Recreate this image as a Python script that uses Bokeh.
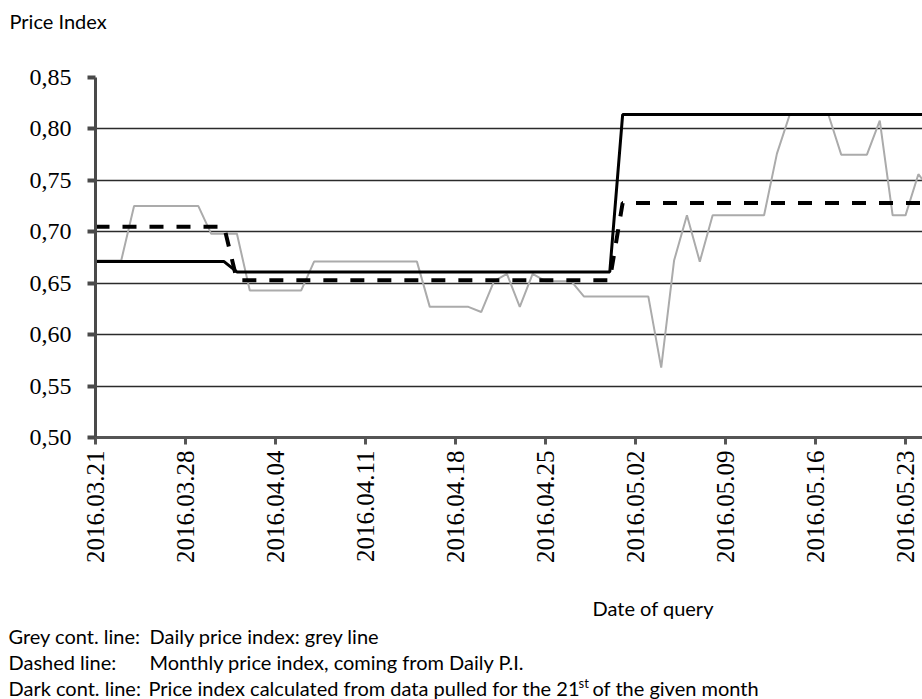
import math
import pandas as pd
from bokeh.plotting import figure
from bokeh.layouts import column
from bokeh.models import Range1d, FixedTicker, DatetimeTickFormatter
from bokeh.core.properties import value
from bokeh.embed import file_html
from bokeh.resources import INLINE

# ---------------- data ----------------
first_day = "2016-03-21"
dates = pd.date_range(first_day, periods=66, freq="D")

daily_pi = [
    0.672, 0.672, 0.672, 0.725, 0.725, 0.725, 0.725, 0.725, 0.725, 0.698,
    0.698, 0.698, 0.643, 0.643, 0.643, 0.643, 0.643, 0.671, 0.671, 0.671,
    0.671, 0.671, 0.671, 0.671, 0.671, 0.671, 0.627, 0.627, 0.627, 0.627,
    0.622, 0.652, 0.659, 0.627, 0.659, 0.652, 0.652, 0.652, 0.637, 0.637,
    0.637, 0.637, 0.637, 0.637, 0.568, 0.672, 0.716, 0.671, 0.716, 0.716,
    0.716, 0.716, 0.716, 0.776, 0.814, 0.814, 0.814, 0.814, 0.775, 0.775,
    0.775, 0.808, 0.716, 0.716, 0.756, 0.740,
]

monthly_pi = [
    0.705, 0.705, 0.705, 0.705, 0.705, 0.705, 0.705, 0.705, 0.705, 0.705,
    0.705, 0.653, 0.653, 0.653, 0.653, 0.653, 0.653, 0.653, 0.653, 0.653,
    0.653, 0.653, 0.653, 0.653, 0.653, 0.653, 0.653, 0.653, 0.653, 0.653,
    0.653, 0.653, 0.653, 0.653, 0.653, 0.653, 0.653, 0.653, 0.653, 0.653,
    0.653, 0.728, 0.728, 0.728, 0.728, 0.728, 0.728, 0.728, 0.728, 0.728,
    0.728, 0.728, 0.728, 0.728, 0.728, 0.728, 0.728, 0.728, 0.728, 0.728,
    0.728, 0.728, 0.728, 0.728, 0.728, 0.728,
]

pulled_21st_pi = [
    0.671, 0.671, 0.671, 0.671, 0.671, 0.671, 0.671, 0.671, 0.671, 0.671,
    0.671, 0.661, 0.661, 0.661, 0.661, 0.661, 0.661, 0.661, 0.661, 0.661,
    0.661, 0.661, 0.661, 0.661, 0.661, 0.661, 0.661, 0.661, 0.661, 0.661,
    0.661, 0.661, 0.661, 0.661, 0.661, 0.661, 0.661, 0.661, 0.661, 0.661,
    0.661, 0.814, 0.814, 0.814, 0.814, 0.814, 0.814, 0.814, 0.814, 0.814,
    0.814, 0.814, 0.814, 0.814, 0.814, 0.814, 0.814, 0.814, 0.814, 0.814,
    0.814, 0.814, 0.814, 0.814, 0.814, 0.814,
]

x_tick_labels = ["2016.03.21", "2016.03.28", "2016.04.04", "2016.04.11", "2016.04.18",
                 "2016.04.25", "2016.05.02", "2016.05.09", "2016.05.16", "2016.05.23"]
y_ticks = [0.50, 0.55, 0.60, 0.65, 0.70, 0.75, 0.80, 0.85]
y_tick_labels = ["0,50", "0,55", "0,60", "0,65", "0,70", "0,75", "0,80", "0,85"]

y_title = "Price Index"
x_title = "Date of query"
notes_left = ["Grey cont. line:", "Dashed line:", "Dark cont. line:"]
notes_right = ["Daily price index: grey line",
               "Monthly price index, coming from Daily P.I.",
               "Price index calculated from data pulled for the 21"]
note_sup = "st"
note_tail = "of the given month"

# ---------------- layout constants ----------------
W = 922
H_TOP, H_CHART, H_BOT = 40, 550, 109
FL, FT = 95, 37              # frame left / top in chart canvas
FB = 397                     # frame bottom in chart canvas
SANS = "Lato"


def text_panel(h):
    f = figure(width=W, height=h, x_range=Range1d(0, W), y_range=Range1d(h, 0),
               output_backend="svg", toolbar_location=None, title=None,
               min_border=0, min_border_left=0, min_border_right=0,
               min_border_top=0, min_border_bottom=0, frame_align=False)
    f.axis.visible = False
    f.grid.visible = False
    f.outline_line_color = None
    f.background_fill_color = "white"
    f.border_fill_color = "white"
    return f


# top panel: y-axis title
top = text_panel(H_TOP)
top.text(x=[9], y=[20], text=[y_title], text_font=value(SANS), text_font_size="20px",
         text_color="black", text_baseline="middle", text_align="left")

# ---------------- chart ----------------
x_start = pd.Timestamp(first_day)
x_end = x_start + pd.Timedelta(days=(W - FL) / (810 / 63))

p = figure(width=W, height=H_CHART, x_axis_type="datetime", title=None,
           x_range=Range1d(x_start, x_end), y_range=Range1d(0.50, 0.85),
           output_backend="svg", toolbar_location=None,
           min_border_left=FL, min_border_right=0, min_border_top=FT,
           min_border_bottom=H_CHART - FB, frame_align=False)
p.outline_line_color = None
p.background_fill_color = "white"
p.border_fill_color = "white"

x_ticks = [pd.Timestamp(s.replace(".", "-")).timestamp() * 1000 for s in x_tick_labels]
p.xaxis.ticker = FixedTicker(ticks=x_ticks)
fmt = "%Y.%m.%d"
p.xaxis.formatter = DatetimeTickFormatter(days=fmt, months=fmt, years=fmt, hours=fmt,
                                          hourmin=fmt, minutes=fmt, minsec=fmt,
                                          seconds=fmt, milliseconds=fmt, microseconds=fmt)
p.xaxis.major_label_orientation = math.pi / 2
p.xaxis.major_label_text_font = "Liberation Serif"
p.xaxis.major_label_text_font_size = "25px"
p.xaxis.major_label_text_color = "black"
p.xaxis.major_label_standoff = 6
p.xaxis.axis_line_color = "#555555"
p.xaxis.axis_line_width = 3
p.xaxis.major_tick_line_color = "#555555"
p.xaxis.major_tick_line_width = 3
p.xaxis.major_tick_out = 7
p.xaxis.major_tick_in = 0
p.xaxis.minor_tick_line_color = None

p.yaxis.ticker = FixedTicker(ticks=y_ticks)
p.yaxis.major_label_overrides = {t: l for t, l in zip(y_ticks, y_tick_labels)}
p.yaxis.major_label_text_font = "Liberation Serif"
p.yaxis.major_label_text_font_size = "24px"
p.yaxis.major_label_text_color = "black"
p.yaxis.major_label_standoff = 16
p.yaxis.axis_line_color = "#4a4a4a"
p.yaxis.axis_line_width = 3
p.yaxis.major_tick_line_color = "#4a4a4a"
p.yaxis.major_tick_line_width = 4
p.yaxis.major_tick_out = 8
p.yaxis.major_tick_in = 0
p.yaxis.minor_tick_line_color = None

p.xgrid.visible = False
p.ygrid.ticker = FixedTicker(ticks=y_ticks)
p.ygrid.grid_line_color = "#2b2b2b"
p.ygrid.grid_line_width = 1.4

p.line(dates, daily_pi, line_color="#ababab", line_width=2)
p.line(dates, monthly_pi, line_color="black", line_width=4, line_dash="14 13")
p.line(dates, pulled_21st_pi, line_color="black", line_width=3)

# ---------------- bottom panel: x title and notes ----------------
bot = text_panel(H_BOT)
common = dict(text_font=value(SANS), text_color="black", text_align="left")
bot.text(x=[592], y=[17], text=[x_title], text_font_size="20px",
         text_baseline="middle", **common)
bot.text(x=[8, 8, 8], y=[45, 71, 97], text=notes_left, text_font_size="20px",
         text_baseline="middle", **common)
bot.text(x=[149, 149, 148], y=[45, 71, 97], text=notes_right, text_font_size="20px",
         text_baseline="middle", **common)
bot.text(x=[578], y=[92], text=[note_sup], text_font_size="13px",
         text_baseline="middle", **common)
bot.text(x=[592], y=[97], text=[note_tail], text_font_size="20px",
         text_baseline="middle", **common)

layout = column(top, p, bot, spacing=0)
open("out.html", "w").write(file_html(layout, INLINE))
